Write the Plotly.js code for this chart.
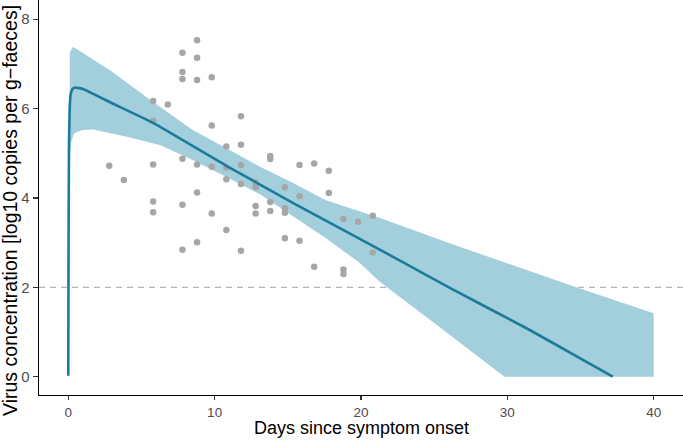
<!DOCTYPE html>
<html>
<head>
<meta charset="utf-8">
<script src="https://cdn.plot.ly/plotly-3.0.1.min.js"></script>
<style>html,body{margin:0;padding:0;background:#fff;}#chart{width:683px;height:440px;}</style>
</head>
<body>
<div id="chart"></div>
<script>
const obsDays = [2.8,3.8,
  5.8,5.8,5.8,5.8,5.8,
  6.8,
  7.8,7.8,7.8,7.8,7.8,7.8,
  8.8,8.8,8.8,8.8,8.8,8.8,
  9.8,9.8,9.8,9.8,
  10.8,10.8,10.8,10.8,
  11.8,11.8,11.8,11.8,11.8,
  12.8,12.8,12.8,12.8,
  13.8,13.8,13.8,13.8,
  14.8,14.8,14.8,14.8,
  15.8,15.8,15.8,
  16.8,16.8,
  17.8,17.8,
  18.8,18.8,18.8,
  19.8,
  20.8,20.8];
const obsConc = [4.72,4.40,
  6.17,5.73,4.75,3.92,3.68,
  6.09,
  7.25,6.82,6.66,4.88,3.85,2.84,
  7.53,7.14,6.64,4.75,4.12,3.01,
  6.70,5.62,4.70,3.65,
  5.15,4.68,4.42,3.28,
  5.83,5.19,4.74,4.31,2.82,
  4.34,4.24,3.82,3.65,
  4.94,4.87,3.91,3.71,
  4.24,3.77,3.67,3.10,
  4.74,4.04,3.04,
  4.77,2.46,
  4.61,4.11,
  3.53,2.40,2.30,
  3.47,
  3.60,2.78];

// Fitted mean curve
const fitDays = [0,0.02,0.05,0.1,0.18,0.3,0.5,1,3,5.8,10.8,15.4,22.6,26.1,31.5,37.2];
const fitConc = [0.02,3.0,5.2,6.05,6.35,6.44,6.47,6.44,6.12,5.68,4.72,3.88,2.61,1.98,1.05,0.0];

// Credible band
const bandUpDays = [0.1,0.3,0.6,2.85,5.8,8.5,10.8,13.1,15.4,17.6,21.3,26.1,34.7,40];
const bandUpper  = [7.25,7.38,7.33,6.86,6.15,5.52,5.11,4.70,4.33,3.95,3.55,2.98,2.0,1.42];
const bandLoDays = [0.1,0.2,0.4,1.0,1.7,4.0,6.3,8.5,10.8,13.1,15.4,17.6,19.9,21.3,25,29.8,40];
const bandLower  = [4.9,5.25,5.45,5.52,5.53,5.37,5.18,4.85,4.47,4.08,3.58,3.1,2.55,2.12,1.2,0,0];

const threshold = 2;
const xTicks = [0,10,20,30,40];
const yTicks = [0,2,4,6,8];

const bandX = bandUpDays.concat(bandLoDays.slice().reverse());
const bandY = bandUpper.concat(bandLower.slice().reverse());

const traces = [
  {x: bandX, y: bandY, type:'scatter', mode:'lines', fill:'toself',
   fillcolor:'#a3cfdd', line:{width:0, color:'#a3cfdd'}, hoverinfo:'skip', showlegend:false},
  {x: obsDays, y: obsConc, type:'scatter', mode:'markers',
   marker:{color:'#a6a6a6', size:6.5}, showlegend:false},
  {x: fitDays, y: fitConc, type:'scatter', mode:'lines',
   line:{color:'#1b7b9c', width:2.6, shape:'spline', smoothing:0.3}, showlegend:false}
];

const layout = {
  width:683, height:440,
  margin:{l:39, r:0, t:0, b:45},
  paper_bgcolor:'#fff', plot_bgcolor:'#fff',
  showlegend:false,
  font:{family:'Liberation Sans, Arial, sans-serif', color:'#000'},
  xaxis:{range:[-2,42], tickvals:xTicks, ticktext:xTicks.map(String), automargin:false,
    showgrid:false, zeroline:false, showline:true, linecolor:'#000', linewidth:1.3,
    ticks:'outside', ticklen:4, tickwidth:1.2, tickcolor:'#333',
    tickfont:{size:13.5, color:'#4d4d4d'}},
  yaxis:{range:[-0.41,8.43], tickvals:yTicks, ticktext:yTicks.map(String), automargin:false,
    showgrid:false, zeroline:false, showline:true, linecolor:'#000', linewidth:1.3,
    ticks:'outside', ticklen:5, tickwidth:1.2, tickcolor:'#333',
    tickfont:{size:15, color:'#4d4d4d'}},
  annotations:[
    {text:'Virus concentration [log10 copies per g\u2212faeces]', textangle:-90,
     xref:'paper', yref:'paper', x:-0.045, y:0.466, xanchor:'center', yanchor:'middle',
     showarrow:false, font:{size:19.5, color:'#000'}},
    {text:'Days since symptom onset', xref:'paper', yref:'paper', x:0.5, y:-0.083,
     xanchor:'center', yanchor:'middle', showarrow:false, borderpad:0,
     font:{size:18, color:'#000'}}
  ],
  shapes:[{type:'line', xref:'paper', x0:0, x1:1, yref:'y', y0:threshold, y1:threshold,
    line:{color:'#b5b5b5', width:1.2, dash:'6px,5px'}, layer:'below'}]
};

Plotly.newPlot('chart', traces, layout, {staticPlot:true, displayModeBar:false});
</script>
</body>
</html>
